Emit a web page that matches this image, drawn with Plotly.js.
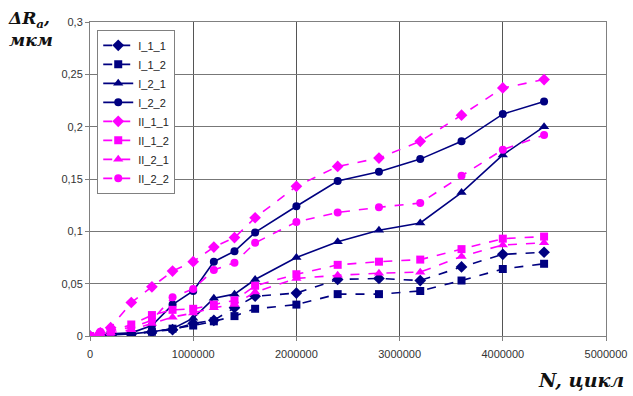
<!DOCTYPE html>
<html>
<head>
<meta charset="utf-8">
<script src="https://cdn.plot.ly/plotly-3.0.1.min.js"></script>
<style>
  html, body { margin: 0; padding: 0; background: #fff; }
  #chart { width: 633px; height: 396px; }
</style>
</head>
<body>
<div id="chart"></div>
<script>
// Number of load cycles
const cycles = [0, 100000, 200000, 400000, 600000, 800000, 1000000, 1200000, 1400000,
                1600000, 2000000, 2400000, 2800000, 3200000, 3600000, 4000000, 4400000];

// Roughness change ΔRa, µm, per specimen group
const I_1_1  = [0, 0.000, 0.001, 0.002, 0.004, 0.006, 0.012, 0.015, 0.027, 0.038, 0.041, 0.054, 0.055, 0.053, 0.066, 0.078, 0.080];
const I_1_2  = [0, 0.000, 0.001, 0.002, 0.004, 0.007, 0.010, 0.014, 0.019, 0.026, 0.030, 0.040, 0.040, 0.043, 0.053, 0.064, 0.069];
const I_2_1  = [0, 0.000, 0.001, 0.002, 0.004, 0.007, 0.017, 0.036, 0.040, 0.054, 0.075, 0.090, 0.101, 0.108, 0.137, 0.173, 0.200];
const I_2_2  = [0, 0.001, 0.002, 0.003, 0.010, 0.030, 0.043, 0.071, 0.081, 0.099, 0.124, 0.148, 0.157, 0.169, 0.186, 0.212, 0.224];
const II_1_1 = [0, 0.003, 0.008, 0.032, 0.047, 0.062, 0.071, 0.085, 0.094, 0.113, 0.143, 0.162, 0.170, 0.186, 0.211, 0.237, 0.245];
const II_1_2 = [0, 0.002, 0.004, 0.011, 0.020, 0.025, 0.026, 0.030, 0.034, 0.048, 0.059, 0.068, 0.071, 0.073, 0.083, 0.093, 0.095];
const II_2_1 = [0, 0.002, 0.003, 0.006, 0.012, 0.018, 0.022, 0.027, 0.030, 0.042, 0.055, 0.058, 0.060, 0.061, 0.076, 0.087, 0.089];
const II_2_2 = [0, 0.004, 0.006, 0.008, 0.015, 0.037, 0.045, 0.063, 0.070, 0.089, 0.109, 0.118, 0.123, 0.127, 0.153, 0.178, 0.192];

const xTicks = [0, 1000000, 2000000, 3000000, 4000000, 5000000];
const xTickText = ['0', '1000000', '2000000', '3000000', '4000000', '5000000'];
const yTicks = [0, 0.05, 0.1, 0.15, 0.2, 0.25, 0.3];
const yTickText = ['0', '0,05', '0,1', '0,15', '0,2', '0,25', '0,3'];

const NAVY = '#000080';
const MAGENTA = '#ff00ff';

function series(name, y, color, symbol, dash) {
  const sizes = { 'diamond': 9, 'square': 8, 'triangle-up': 9, 'circle': 8 };
  return {
    type: 'scatter', mode: 'lines+markers', name: name,
    x: cycles, y: y,
    line: { color: color, width: 1.6, dash: dash },
    marker: { color: color, symbol: symbol, size: sizes[symbol] }
  };
}

const traces = [
  series('I_1_1',  I_1_1,  NAVY,    'diamond',     'dash'),
  series('I_1_2',  I_1_2,  NAVY,    'square',      'dash'),
  series('I_2_1',  I_2_1,  NAVY,    'triangle-up', 'solid'),
  series('I_2_2',  I_2_2,  NAVY,    'circle',      'solid'),
  series('II_1_1', II_1_1, MAGENTA, 'diamond',     'dash'),
  series('II_1_2', II_1_2, MAGENTA, 'square',      'dash'),
  series('II_2_1', II_2_1, MAGENTA, 'triangle-up', 'dash'),
  series('II_2_2', II_2_2, MAGENTA, 'circle',      'dash')
];

const SANS = 'Arial';
const SERIF = 'DejaVu Serif';
const tickFont = { family: SANS, size: 11, color: '#333' };

const layout = {
  width: 633, height: 396,
  margin: { l: 90, r: 27, t: 22, b: 60 },
  paper_bgcolor: '#fff', plot_bgcolor: '#fff',
  font: { family: SANS },
  showlegend: true,
  legend: {
    x: 0.014, y: 0.975, xanchor: 'left', yanchor: 'top',
    bgcolor: '#fff', bordercolor: '#808080', borderwidth: 1,
    font: { family: SANS, size: 11, color: '#222' },
    tracegroupgap: 0, itemwidth: 30
  },
  xaxis: {
    range: [0, 5000000], tickvals: xTicks, ticktext: xTickText,
    showgrid: true, gridcolor: '#555', gridwidth: 1,
    showline: true, linecolor: '#808080', linewidth: 1, mirror: true,
    ticks: 'outside', ticklen: 4, tickcolor: '#808080', ticklabelstandoff: 4,
    zeroline: false, tickfont: tickFont
  },
  yaxis: {
    range: [0, 0.3], tickvals: yTicks, ticktext: yTickText,
    showgrid: true, gridcolor: '#777', gridwidth: 1,
    showline: true, linecolor: '#808080', linewidth: 1, mirror: true,
    ticks: 'outside', ticklen: 4, tickcolor: '#808080',
    zeroline: false, tickfont: tickFont
  },
  annotations: [
    { xref: 'paper', yref: 'paper', x: -0.163, y: 1.05, xanchor: 'left', yanchor: 'top',
      text: '<b><i>ΔR<sub>a</sub>,<br>мкм</i></b>', showarrow: false, align: 'left',
      font: { family: SERIF, size: 17, color: '#111' } },
    { xref: 'paper', yref: 'paper', x: 1.038, y: -0.1, xanchor: 'right', yanchor: 'top',
      text: '<b><i>N, цикл</i></b>', showarrow: false,
      font: { family: SERIF, size: 19, color: '#111' } }
  ]
};

Plotly.newPlot('chart', traces, layout, { displayModeBar: false, staticPlot: true });
</script>
</body>
</html>
